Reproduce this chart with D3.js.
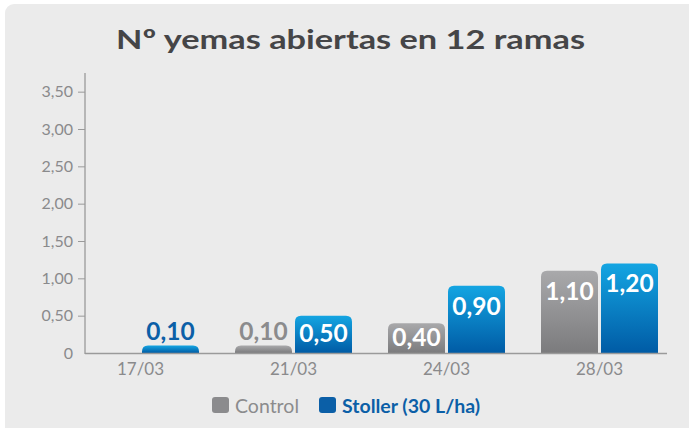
<!DOCTYPE html>
<html>
<head>
<meta charset="utf-8">
<script src="https://cdn.jsdelivr.net/npm/d3@7"></script>
<style>
  body { margin:0; background:#fff; }
  svg { display:block; font-family: Lato, "Open Sans", sans-serif; }
</style>
</head>
<body>
<div id="chart"></div>
<script>
//data
var dates = ["17/03","21/03","24/03","28/03"];
var series = ["Control","Stoller (30 L/ha)"];
var control = [0, 0.10, 0.40, 1.10];
var stoller = [0.10, 0.50, 0.90, 1.20];
var yTicks = [0,0.5,1,1.5,2,2.5,3,3.5];

var W = 689, H = 428;
var svg = d3.select("#chart").append("svg").attr("width",W).attr("height",H);

var defs = svg.append("defs");
function grad(id, top, bottom){
  var g = defs.append("linearGradient").attr("id",id).attr("x1",0).attr("y1",0).attr("x2",0).attr("y2",1);
  g.append("stop").attr("offset","0%").attr("stop-color",top);
  g.append("stop").attr("offset","100%").attr("stop-color",bottom);
}
grad("gGray","#a9a9ab","#7b7b7d");
grad("gBlue","#14a5e2","#005ba5");
var colors = ["url(#gGray)","url(#gBlue)"];
var textColors = ["#8b8b8d","#0b5fa7"];

//panel
svg.append("rect").attr("x",5).attr("y",4).attr("width",W+20).attr("height",H+20)
  .attr("rx",9).style("fill","#ebebeb");

svg.append("text").attr("x",116).attr("y",49)
  .attr("textLength",469).attr("lengthAdjust","spacingAndGlyphs")
  .style("font-size","27px").style("font-weight","bold").style("fill","#454547")
  .text("Nº yemas abiertas en 12 ramas");

var y = d3.scaleLinear().domain([0,3.75]).range([353,73]);
var x = d3.scaleBand().domain(dates).range([64,676]).padding(0);
var x1 = d3.scaleBand().domain([0,1]).range([0,117]).paddingInner(0.05);

//y axis
var gy = svg.append("g").attr("transform","translate(85,0)")
  .call(d3.axisLeft(y).tickValues(yTicks).tickSize(7).tickPadding(5)
    .tickFormat(function(d){ return d===0 ? "0" : d3.format(".2f")(d).replace(".",","); }));
gy.select(".domain").remove();
gy.selectAll(".tick line").style("stroke","#9a9a9a").style("display",function(d){ return d===0?"none":null; });
gy.selectAll("text").style("font-size","16px").style("fill","#8a8a8c").style("font-family","Lato, sans-serif");
svg.append("line").attr("x1",85).attr("x2",85).attr("y1",73).attr("y2",354).style("stroke","#9a9a9a").style("stroke-width",1.3);

//bars
var data = [];
dates.forEach(function(d,i){
  data.push({date:d, s:0, v:control[i]});
  data.push({date:d, s:1, v:stoller[i]});
});

function topRounded(x0,y0,w,h,r){
  if(h<=0) return "";
  r = Math.min(r,h);
  return "M"+x0+","+(y0+h)+"V"+(y0+r)+"Q"+x0+","+y0+" "+(x0+r)+","+y0+
    "H"+(x0+w-r)+"Q"+(x0+w)+","+y0+" "+(x0+w)+","+(y0+r)+"V"+(y0+h)+"Z";
}

var bars = svg.append("g");
bars.selectAll("path").data(data.filter(function(d){ return d.v>0; })).enter().append("path")
  .attr("d",function(d){
    var cx = x(d.date)+x.bandwidth()/2 - 58.5;
    return topRounded(cx+x1(d.s), y(d.v), x1.bandwidth(), y(0)-y(d.v), 6);
  })
  .style("fill",function(d){ return colors[d.s]; });

bars.selectAll("text").data(data.filter(function(d){ return d.v>0; })).enter().append("text")
  .attr("x",function(d){ return x(d.date)+x.bandwidth()/2 - 58.5 + x1(d.s) + x1.bandwidth()/2; })
  .attr("y",function(d){
    var t = y(d.v), h = y(0)-t;
    if(d.v<0.3) return t-6;
    return Math.min(t+29, t+h/2+8);
  })
  .attr("text-anchor","middle")
  .style("font-size","24.5px").style("font-weight","bold")
  .style("fill",function(d){ return d.v<0.3 ? textColors[d.s] : "#fff"; })
  .text(function(d){ return d3.format(".2f")(d.v).replace(".",","); });

//x axis
svg.append("line").attr("x1",85).attr("x2",667).attr("y1",353.5).attr("y2",353.5)
  .style("stroke","#9a9a9a").style("stroke-width",1.3);
svg.append("g").selectAll("text").data(dates).enter().append("text")
  .attr("x",function(d){ return x(d)+x.bandwidth()/2; })
  .attr("y",375).attr("text-anchor","middle")
  .style("font-size","17px").style("fill","#8a8a8c")
  .text(function(d){ return d; });

//legend
var leg = svg.append("g");
var legX = [212,319];
series.forEach(function(s,i){
  leg.append("rect").attr("x",legX[i]).attr("y",397).attr("width",17).attr("height",16).attr("rx",3)
    .style("fill",i==0?"#8b8b8d":"#0b5fa7");
  leg.append("text").attr("x",legX[i]+23).attr("y",412.5)
    .style("font-size","19.5px").style("font-weight",i==0?"normal":"bold")
    .style("fill",textColors[i]).text(s);
});
</script>
</body>
</html>
